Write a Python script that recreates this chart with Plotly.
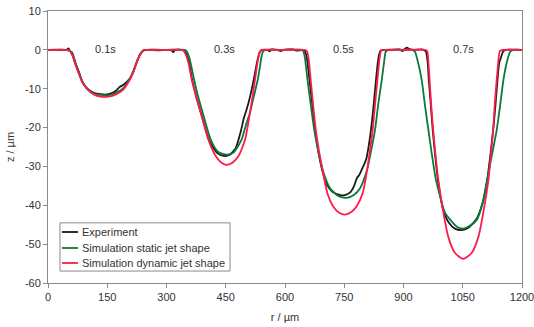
import plotly.graph_objects as go

# Radial profiles z(r) of the four craters (0.1 s, 0.3 s, 0.5 s, 0.7 s)
r_exp = [0, 40, 48, 52, 55, 60, 65, 70, 78, 85, 93, 102, 118, 133, 145, 160, 172, 181, 192, 207, 216, 224, 233, 241, 250,
         280, 300, 312, 317, 322, 340, 346, 351, 357, 364, 375, 388, 408, 428, 445, 460, 475, 488, 496, 502, 508, 515, 524,
         530, 536, 542, 555, 561, 566, 580, 590, 595, 620, 630, 645, 651, 656, 662, 669, 676, 684, 693, 705, 720, 738, 752,
         765, 775, 782, 788, 798, 806, 813, 820, 826, 832, 837, 842, 848, 870, 890, 897, 903, 909, 915, 925, 945, 952, 957,
         961, 964, 969, 974, 980, 987, 1000, 1015, 1030, 1048, 1065, 1085, 1100, 1112, 1120, 1127, 1133, 1138, 1142, 1146,
         1152, 1158, 1200]
z_exp = [0, 0, 0.1, 0.4, -0.3, -0.6, -1.8, -3.5, -5.6, -7.7, -9.2, -10.2, -11.1, -11.4, -11.5, -11.2, -10.5, -9.6, -8.9,
         -7.4, -5.5, -3.3, -1.2, -0.2, 0,
         -0.1, 0, -0.1, -0.6, 0, 0, -0.3, -1.2, -3.2, -7.2, -12.0, -16.5, -23.3, -26.5, -27.3, -27.0, -25.3, -21.0, -17.5,
         -15.6, -13.5, -10.5, -6.0, -2.8, -0.6, 0, 0, -0.4, 0.1, 0, -0.3, 0, 0.1, -0.2, 0, -0.4, -2.5, -7.7, -14.0, -20.6,
         -26.0, -30.5, -34.5, -36.5, -37.3, -37.4, -36.7, -35.0, -33.0, -32.2, -30.0, -28.0, -24.0, -18.5, -12.5, -6.0,
         -1.8, -0.2, 0, 0, 0.1, -0.3, 0.2, 0.6, 0.2, 0, 0.1, 0, -0.5, -3.0, -7.7, -14.0, -20.6, -27.0, -33.4, -41.0, -44.5,
         -46.0, -46.4, -45.7, -43.5, -39.5, -33.4, -27.0, -20.6, -14.0, -7.7, -3.5, -2.2, -0.5, 0, 0]

r_static = [0, 48, 57, 63, 69, 77, 85, 93, 102, 118, 133, 148, 160, 173, 190, 207, 216, 224, 233, 241, 250,
            300, 346, 351, 357, 362, 370, 380, 392, 412, 430, 452, 470, 490, 502, 511, 521, 531, 537, 541, 545, 552,
            600, 642, 647, 651, 657, 665, 674, 684, 695, 714, 735, 756, 775, 790, 808, 818, 828, 836, 845, 851, 855, 862,
            900, 922, 929, 935, 946, 954, 963, 972, 982, 1005, 1018, 1035, 1050, 1066, 1086, 1100, 1112, 1124, 1136,
            1145, 1153, 1162, 1170, 1178, 1200]
z_static = [0, 0, -0.4, -1.6, -3.4, -5.6, -7.7, -9.2, -10.3, -11.3, -11.6, -11.7, -11.5, -11.0, -9.9, -7.5, -5.6, -3.3,
            -1.2, -0.2, 0,
            0, 0, -0.4, -1.8, -3.8, -7.7, -12.0, -16.3, -23.1, -26.2, -27.0, -26.4, -23.1, -19.0, -16.3, -12.0, -7.7,
            -4.0, -1.5, -0.3, 0,
            0, 0, -0.5, -2.5, -7.7, -14.0, -20.6, -26.0, -30.8, -35.6, -37.6, -38.1, -37.3, -35.6, -30.8, -26.0, -20.6,
            -14.0, -7.7, -3.0, -0.5, 0,
            0, 0, -0.5, -2.5, -7.7, -14.0, -20.6, -27.0, -33.4, -41.9, -43.7, -45.5, -46.0, -45.4, -43.7, -39.5, -33.4,
            -27.0, -20.6, -14.0, -7.7, -3.0, -0.5, 0, 0]

r_dynamic = [0, 45, 55, 62, 68, 76, 84, 92, 101, 118, 133, 148, 160, 173, 190, 207, 216, 224, 233, 241, 250,
             300, 338, 344, 350, 356, 364, 375, 387, 406, 425, 440, 452, 466, 482, 499, 511, 518, 524, 530, 534, 538, 545,
             600, 650, 656, 660, 665, 671, 678, 686, 695, 707, 722, 738, 752, 767, 781, 797, 808, 815, 822, 828, 834,
             839, 843, 850,
             900, 955, 960, 963, 966, 970, 975, 981, 988, 1001, 1013, 1030, 1051, 1073, 1090, 1102, 1115, 1121, 1127,
             1131, 1136, 1140, 1144, 1152, 1200]
z_dynamic = [0, 0, -0.3, -1.5, -3.4, -5.6, -7.7, -9.2, -10.3, -11.6, -12.0, -12.1, -11.9, -11.4, -10.3, -7.7, -5.8, -3.4,
             -1.2, -0.2, 0,
             0, 0, -0.3, -1.5, -3.5, -7.7, -12.0, -16.3, -23.1, -27.4, -29.1, -29.6, -29.1, -27.4, -23.1, -16.3, -12.0,
             -7.7, -3.5, -1.3, -0.2, 0,
             0, 0, -0.4, -2.5, -7.7, -14.0, -20.6, -26.0, -30.8, -36.8, -40.3, -42.0, -42.4, -41.8, -40.3, -36.8, -30.8,
             -26.0, -20.6, -14.0, -7.7, -2.5, -0.3, 0,
             0, 0, -0.3, -3.0, -7.7, -14.0, -20.6, -27.0, -33.4, -41.9, -48.0, -52.2, -53.8, -52.2, -48.0, -41.9, -33.4,
             -27.0, -20.6, -14.0, -7.7, -3.0, -0.3, 0, 0]

series_names = ["Experiment", "Simulation static jet shape", "Simulation dynamic jet shape"]
series_colors = ["#1a1a1a", "#0a7a3a", "#ff1a4a"]

x_ticks = [0, 150, 300, 450, 600, 750, 900, 1050, 1200]
y_ticks = [10, 0, -10, -20, -30, -40, -50, -60]
y_tick_text = ["10", "0", "-10", "-20", "-30", "-40", "-50", "-60"]

time_labels = ["0.1s", "0.3s", "0.5s", "0.7s"]
time_label_r = [145, 448, 747, 1051]

FONT = "Liberation Sans, Arial, sans-serif"
TEXT = "#333333"
FRAME = "#8a8a8a"

fig = go.Figure()
for name, rr, zz, col in zip(series_names, [r_exp, r_static, r_dynamic],
                             [z_exp, z_static, z_dynamic], series_colors):
    fig.add_trace(go.Scatter(
        x=rr, y=zz, name=name, mode="lines", showlegend=False,
        line=dict(color=col, width=1.8, shape="spline", smoothing=0.6),
    ))

for lbl, rr in zip(time_labels, time_label_r):
    fig.add_annotation(x=rr, y=0.3, text=lbl, showarrow=False, yanchor="middle",
                       font=dict(family=FONT, size=11, color=TEXT))

# compact boxed key in the lower-left corner of the plot area
box_x0, box_x1, box_y0, box_y1 = 0.0253, 0.384, 0.044, 0.221
row_y = [0.1875, 0.1287, 0.0735]
fig.add_shape(type="rect", xref="paper", yref="paper", x0=box_x0, x1=box_x1, y0=box_y0, y1=box_y1,
              line=dict(color=FRAME, width=1), fillcolor="white", layer="above")
for name, col, yy in zip(series_names, series_colors, row_y):
    fig.add_shape(type="line", xref="paper", yref="paper", x0=0.0295, x1=0.0633, y0=yy, y1=yy,
                  line=dict(color=col, width=1.8), layer="above")
    fig.add_annotation(xref="paper", yref="paper", x=0.0675, y=yy, text=name, showarrow=False,
                       xanchor="left", yanchor="middle",
                       font=dict(family=FONT, size=11, color=TEXT))

axis_common = dict(
    showgrid=False, zeroline=False, showline=True, linecolor=FRAME, linewidth=1,
    mirror=True, ticks="outside", ticklen=4, tickcolor=FRAME, automargin=False,
    tickfont=dict(family=FONT, size=11, color=TEXT),
)
fig.update_xaxes(range=[0, 1200], tickvals=x_ticks, ticklabeloverflow="allow",
                 title=dict(text="r / µm", font=dict(family=FONT, size=11, color=TEXT), standoff=11),
                 **axis_common)
fig.update_yaxes(range=[-60, 10], tickvals=y_ticks, ticktext=y_tick_text,
                 title=dict(text="z / µm", font=dict(family=FONT, size=11, color=TEXT), standoff=8),
                 **axis_common)

fig.update_layout(
    width=534, height=327,
    margin=dict(l=48, r=12, t=11, b=44),
    paper_bgcolor="white", plot_bgcolor="white",
    showlegend=False,
)

fig.write_html("out.html")
